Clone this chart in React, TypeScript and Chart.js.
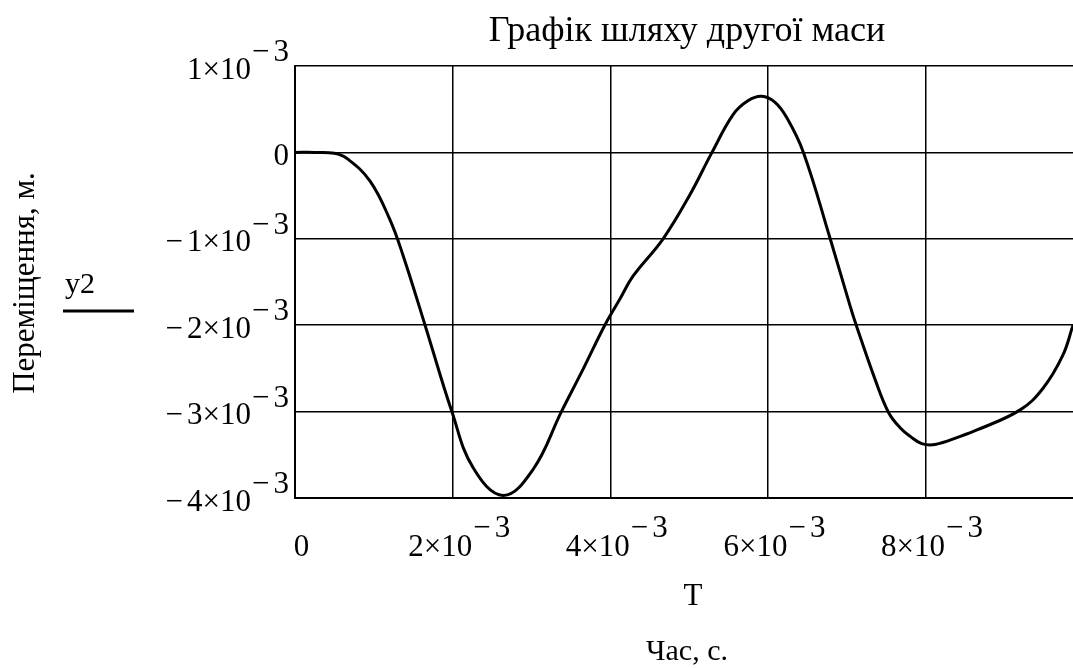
import React, { useEffect, useRef } from "react";
import { Chart, registerables } from "chart.js";

Chart.register(...registerables);

// Time, s
const T: number[] = [
  0, 0.00025, 0.0005, 0.00066, 0.00095, 0.0012, 0.00137, 0.00165, 0.00199,
  0.00226, 0.00264, 0.00302, 0.00338, 0.00366, 0.00393, 0.00412, 0.00429, 0.00467,
  0.00501, 0.00529, 0.00556, 0.00575, 0.00592, 0.00609, 0.00624, 0.00645, 0.00679,
  0.00704, 0.00712, 0.00736, 0.00753, 0.00768, 0.00781, 0.00795, 0.00812, 0.00843,
  0.00866, 0.0092, 0.00949, 0.00974, 0.00987,
];
// Displacement of the second mass, m
const Y2: number[] = [
  0, 0, -0.00001, -0.00007, -0.00033, -0.00077, -0.00119, -0.002, -0.003,
  -0.00365, -0.00397, -0.00367, -0.003, -0.0025, -0.002, -0.0017, -0.00143, -0.001,
  -0.00049, 0, 0.00044, 0.0006, 0.00065, 0.00058, 0.0004, 0, -0.001,
  -0.00177, -0.002, -0.00263, -0.00301, -0.00319, -0.00329, -0.00337, -0.00338, -0.00329,
  -0.00321, -0.00298, -0.00273, -0.00235, -0.002,
];

const X_TICKS: number[] = [0, 0.002, 0.004, 0.006, 0.008];
const Y_TICKS: number[] = [0.001, 0, -0.001, -0.002, -0.003, -0.004];

const TITLE = "Графік шляху другої маси";
const Y_LABEL = "Переміщення, м.";
const X_VAR = "T";
const X_LABEL = "Час, с.";
const SERIES = "y2";

const FAMILY = '"Liberation Serif"';

type Seg = { t: string; gap: number };

function sciParts(v: number): [Seg[], Seg[]] {
  const m = Math.round(v / 0.001);
  if (m === 0) return [[{ t: "0", gap: 0 }], []];
  const main: Seg[] = [];
  if (m < 0) main.push({ t: "−", gap: 4 });
  main.push({ t: Math.abs(m) + "×10", gap: 0 });
  const sup: Seg[] = [
    { t: "−", gap: 4 },
    { t: "3", gap: 0 },
  ];
  return [main, sup];
}

function segWidth(ctx: CanvasRenderingContext2D, segs: Seg[]): number {
  let w = 0;
  for (const s of segs) w += ctx.measureText(s.t).width + s.gap;
  return w;
}

function drawSegs(ctx: CanvasRenderingContext2D, segs: Seg[], x: number, y: number) {
  let cx = x;
  for (const s of segs) {
    ctx.fillText(s.t, cx, y);
    cx += ctx.measureText(s.t).width + s.gap;
  }
}

const textPlugin = {
  id: "mathcadText",
  afterDraw(chart: any) {
    const ctx: CanvasRenderingContext2D = chart.ctx;
    const xs = chart.scales.x;
    const ys = chart.scales.y;
    ctx.save();
    ctx.fillStyle = "#000";
    ctx.textBaseline = "alphabetic";
    ctx.textAlign = "left";
    ctx.font = `31px ${FAMILY}`;

    // y tick labels (right aligned)
    for (const v of Y_TICKS) {
      const py = ys.getPixelForValue(v);
      const [main, sup] = sciParts(v);
      const wm = segWidth(ctx, main);
      const ws = sup.length ? segWidth(ctx, sup) + 1 : 0;
      const right = 289;
      drawSegs(ctx, main, right - ws - wm, py + 12.5);
      if (sup.length) drawSegs(ctx, sup, right - ws + 1, py - 5);
    }

    // x tick labels (centered)
    for (const v of X_TICKS) {
      const px = xs.getPixelForValue(v);
      const [main, sup] = sciParts(v);
      const wm = segWidth(ctx, main);
      const ws = sup.length ? segWidth(ctx, sup) + 1 : 0;
      const start = px + 6.5 - (wm + ws) / 2;
      drawSegs(ctx, main, start, 556);
      if (sup.length) drawSegs(ctx, sup, start + wm + 1, 537);
    }

    // title and axis labels
    ctx.textAlign = "center";
    ctx.font = `36px ${FAMILY}`;
    ctx.fillText(TITLE, 687, 41);
    ctx.font = `31px ${FAMILY}`;
    ctx.fillText(X_VAR, 693, 605);
    ctx.font = `30px ${FAMILY}`;
    ctx.fillText(X_LABEL, 687, 660);

    // legend entry
    ctx.textAlign = "left";
    ctx.font = `30px ${FAMILY}`;
    ctx.fillText(SERIES, 65, 293);
    ctx.strokeStyle = "#000";
    ctx.lineWidth = 3;
    ctx.beginPath();
    ctx.moveTo(63, 311);
    ctx.lineTo(134, 311);
    ctx.stroke();

    // rotated y label
    ctx.font = `31px ${FAMILY}`;
    ctx.translate(26, 283);
    ctx.rotate(-Math.PI / 2);
    ctx.textAlign = "center";
    ctx.textBaseline = "middle";
    ctx.fillText(Y_LABEL, 0, 0);
    ctx.restore();
  },
};

export default function App() {
  const ref = useRef<HTMLCanvasElement | null>(null);
  useEffect(() => {
    if (!ref.current) return;
    const chart = new Chart(ref.current, {
      type: "line",
      data: {
        datasets: [
          {
            label: SERIES,
            data: T.map((t, i) => ({ x: t, y: Y2[i] })),
            borderColor: "#000",
            borderWidth: 3,
            pointRadius: 0,
            tension: 0.4,
            fill: false,
          },
        ],
      },
      options: {
        animation: false,
        responsive: false,
        layout: { padding: { left: 295, top: 66, right: 0, bottom: 170 } },
        plugins: { legend: { display: false }, title: { display: false }, tooltip: { enabled: false } },
        scales: {
          x: {
            type: "linear",
            min: 0,
            max: 0.00987,
            ticks: { display: false, stepSize: 0.002, includeBounds: false },
            grid: { color: "#000", lineWidth: 1.5, drawTicks: false },
            border: { display: true, color: "#000", width: 2 },
          },
          y: {
            type: "linear",
            min: -0.004,
            max: 0.001,
            ticks: { display: false, stepSize: 0.001 },
            grid: { color: "#000", lineWidth: 1.5, drawTicks: false },
            border: { display: true, color: "#000", width: 2 },
          },
        },
      },
      plugins: [textPlugin],
    });
    return () => chart.destroy();
  }, []);
  return (
    <div style={{ position: "absolute", left: 0, top: 0, width: 1073, height: 668, overflow: "hidden", background: "#fff" }}>
      <canvas ref={ref} width={1073} height={668} style={{ width: 1073, height: 668, display: "block" }} />
    </div>
  );
}
